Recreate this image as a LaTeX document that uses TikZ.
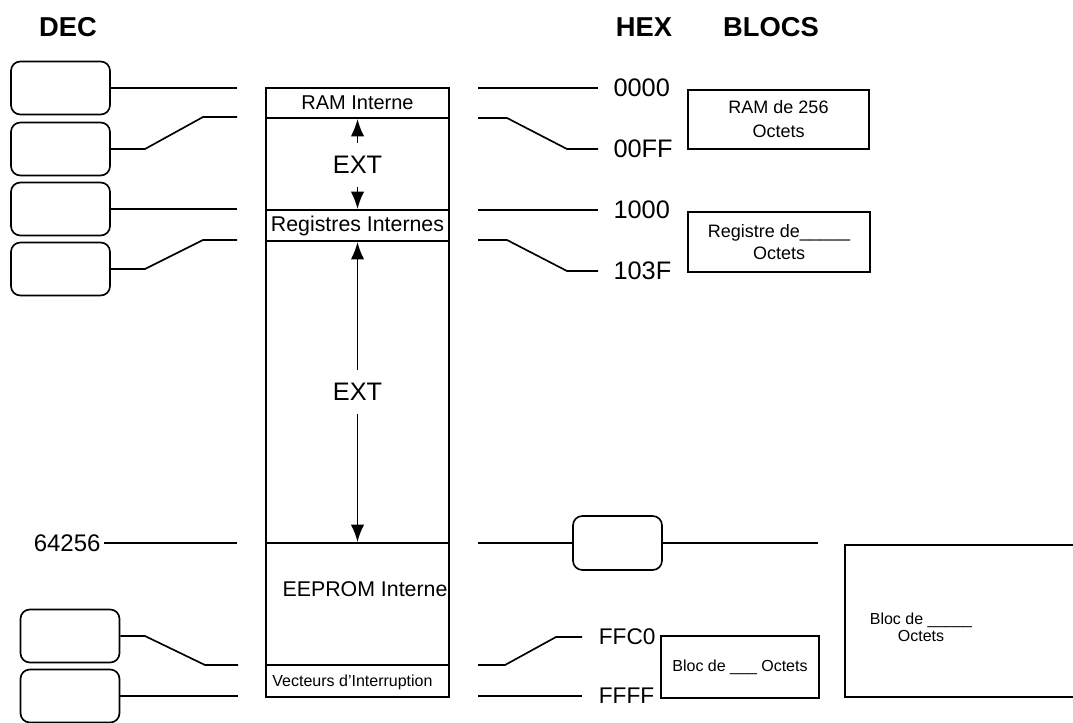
\documentclass[tikz,border=0pt]{standalone}
\usepackage{fontspec}
\setmainfont{Liberation Sans}
\usetikzlibrary{arrows.meta}
\begin{document}
\begin{tikzpicture}[x=0.75pt,y=-0.75pt,line width=1.25pt,
  hdr/.style={font=\fontsize{20.5}{24}\selectfont\bfseries, inner sep=0pt},
  rbox/.style={draw, rounded corners=7pt, minimum width=74.25pt, minimum height=39.75pt, inner sep=0pt},
  hexl/.style={font=\fontsize{19}{22}\selectfont, inner xsep=11pt, inner ysep=0pt, anchor=west},
  extl/.style={font=\fontsize{19}{22}\selectfont, inner xsep=0pt, inner ysep=9pt},
  arr/.style={-{Latex[length=13pt,width=10pt]}},
  blk/.style={draw, inner sep=0pt, align=center},
  ]
\useasboundingbox (0,0) rectangle (1073,722);
% headers
\node[hdr] (dec) at (68,27) {DEC};
\node[hdr] (hex) at (644,27) {HEX};
\node[hdr] (blocs) at (771,27) {BLOCS};

% left rounded boxes
\node[rbox] (b1) at (60.5,88) {};
\node[rbox] (b2) at (60.5,149) {};
\node[rbox] (b3) at (60.5,209) {};
\node[rbox] (b4) at (60.5,269) {};
\node[rbox] (b5) at (70,636) {};
\node[rbox] (b6) at (70,696) {};

\coordinate (l1) at (237,88);
\coordinate (l2) at (237,117);
\coordinate (l3) at (237,209);
\coordinate (l4) at (237,240);
\coordinate (l5) at (238,665);
\coordinate (l6) at (238,696);
\draw (b1.east) -- (l1);
\draw (b2.east) -- (145,149) -- (203,117) -- (l2);
\draw (b3.east) -- (l3);
\draw (b4.east) -- (145,269) -- (203,240) -- (l4);
\draw (b5.east) -- (145,636) -- (205,665) -- (l5);
\draw (b6.east) -- (l6);

% 64256
\node[font=\fontsize{18}{20}\selectfont, anchor=east, inner xsep=2pt, inner ysep=0pt] (d7) at (104,543) {64256};
\coordinate (l7) at (237,543);
\draw (d7.east) -- (l7);

% memory column
\draw (266,88) rectangle (449,697);
\foreach \yy in {118,210,241,543,665} \draw (266,\yy) -- (449,\yy);
\node[font=\fontsize{15}{18}\selectfont, inner sep=0pt] (ram) at (357.5,103) {RAM Interne};
\node[font=\fontsize{16}{18}\selectfont, inner sep=0pt] (reg) at (357.5,225.5) {Registres Internes};
\node[font=\fontsize{16}{18}\selectfont, inner sep=0pt] (eep) at (365,589) {EEPROM Interne};
\node[font=\fontsize{12}{14}\selectfont, inner sep=0pt] (vec) at (352.5,682) {Vecteurs d'Interruption};

% EXT arrows
\node[extl] (e1) at (357.5,165) {EXT};
\coordinate (t1) at (357.5,119);
\coordinate (t2) at (357.5,209);
\draw[arr] (e1.north) -- (t1);
\draw[arr] (e1.south) -- (t2);
\node[extl] (e2) at (357.5,392) {EXT};
\coordinate (t3) at (357.5,242);
\coordinate (t4) at (357.5,542);
\draw[arr] (e2.north) -- (t3);
\draw[arr] (e2.south) -- (t4);

% hex labels
\node[hexl] (h1) at (598,88) {0000};
\node[hexl] (h2) at (598,149) {00FF};
\node[hexl] (h3) at (598,210) {1000};
\node[hexl] (h4) at (598,271) {103F};
\node[hexl, font=\fontsize{17}{20}\selectfont, inner xsep=12pt] (h5) at (582,637) {FFC0};
\node[hexl, font=\fontsize{17}{20}\selectfont, inner xsep=12pt] (h6) at (582,696) {FFFF};
\coordinate (s1) at (478,88);
\coordinate (s2) at (478,118);
\coordinate (s3) at (478,210);
\coordinate (s4) at (478,240);
\coordinate (s5) at (478,665);
\coordinate (s6) at (478,696);
\draw (s1) -- (h1.west);
\draw (s2) -- (507,118) -- (567,149) -- (h2.west);
\draw (s3) -- (h3.west);
\draw (s4) -- (507,240) -- (567,271) -- (h4.west);
\draw (s5) -- (505,665) -- (556,637) -- (h5.west);
\draw (s6) -- (h6.west);

% 64256 line right side
\coordinate (s7) at (478,543);
\node[rbox, minimum width=66.75pt, minimum height=40.5pt] (rr) at (617.5,543) {};
\coordinate (e7) at (818,543);
\draw (s7) -- (rr.west);
\draw (rr.east) -- (e7);

% blocks
\node[blk, minimum width=135.75pt, minimum height=44.25pt, font=\fontsize{13.5}{18}\selectfont] (ramb) at (778.5,119.5) {RAM de 256\\Octets};
\node[blk, minimum width=136.5pt, minimum height=45pt, font=\fontsize{13.5}{16}\selectfont] (regb) at (779,242) {Registre de\_\_\_\_\_\\Octets};
\node[blk, minimum width=118.5pt, minimum height=46.5pt, font=\fontsize{12}{14}\selectfont] (blocb) at (740,667) {Bloc de \_\_\_ Octets};
\draw (1080,545) -- (845,545) -- (845,697) -- (1080,697);
\node[align=center, inner sep=0pt, font=\fontsize{12}{12.75}\selectfont] (bigt) at (921,627) {Bloc de \_\_\_\_\_\\Octets};
\end{tikzpicture}
\end{document}
